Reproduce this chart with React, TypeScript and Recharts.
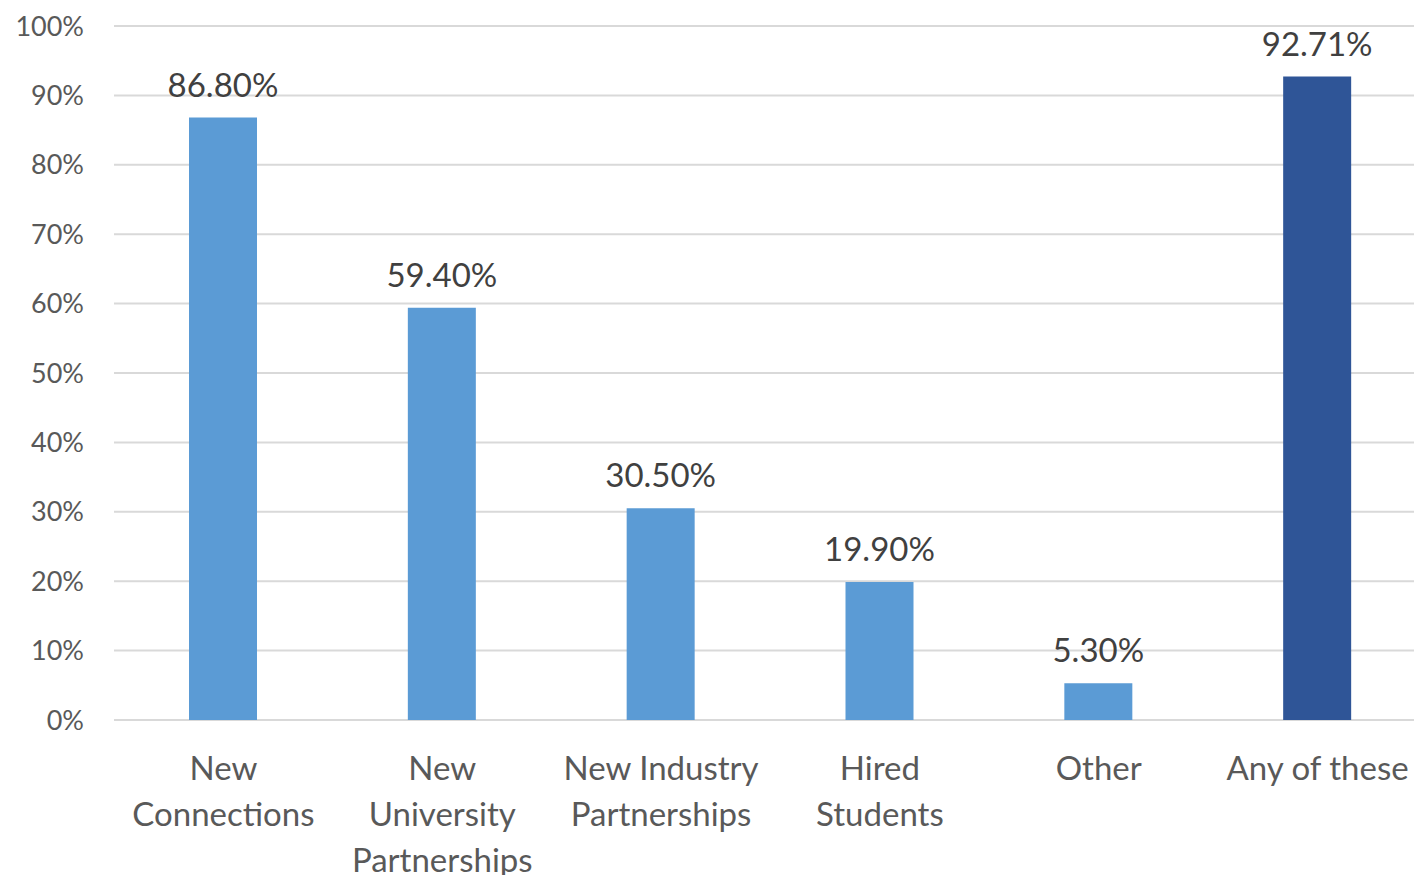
import { BarChart, Bar, XAxis, YAxis, CartesianGrid, Cell, LabelList } from "recharts";

const categories = [
  "New\nConnections",
  "New\nUniversity\nPartnerships",
  "New Industry\nPartnerships",
  "Hired\nStudents",
  "Other",
  "Any of these",
];
const values = [86.8, 59.4, 30.5, 19.9, 5.3, 92.71];
const yTicks = [0, 10, 20, 30, 40, 50, 60, 70, 80, 90, 100];

const data = categories.map((name, i) => ({ name, value: values[i] }));

const FONT = "Lato, 'Open Sans', sans-serif";

function CategoryTick(props: any) {
  const { x, y, payload } = props;
  const lines = String(payload.value).split("\n");
  return (
    <text x={x} y={y} textAnchor="middle" fill="#595959" fontSize={33} fontFamily={FONT}>
      {lines.map((line, i) => (
        <tspan key={i} x={x} dy={i === 0 ? 58 : 46}>
          {line}
        </tspan>
      ))}
    </text>
  );
}

export default function App() {
  return (
    <div style={{ position: "absolute", left: 0, top: 0, width: 1414, height: 875, overflow: "hidden", background: "#fff" }}>
      <BarChart width={1428} height={875} data={data} margin={{ top: 26, right: 1, bottom: 0, left: 0 }}>
        <CartesianGrid vertical={false} stroke="#d9d9d9" strokeWidth={2} />
        <XAxis
          dataKey="name"
          height={155}
          axisLine={false}
          tickLine={false}
          tickSize={0}
          interval={0}
          tick={<CategoryTick />}
        />
        <YAxis
          width={114}
          domain={[0, 100]}
          ticks={yTicks}
          axisLine={false}
          tickLine={false}
          tickSize={0}
          tickMargin={30}
          tickFormatter={(v: number) => `${v}%`}
          tick={{ fill: "#595959", fontSize: 27, fontFamily: FONT }}
        />
        <Bar dataKey="value" barSize={68} isAnimationActive={false}>
          {data.map((d, i) => (
            <Cell key={d.name} fill={i === data.length - 1 ? "#2f5597" : "#5b9bd5"} />
          ))}
          <LabelList
            dataKey="value"
            position="top"
            offset={21}
            formatter={(v: any) => `${Number(v).toFixed(2)}%`}
            style={{ fill: "#404040", fontSize: 33, fontFamily: FONT }}
          />
        </Bar>
      </BarChart>
    </div>
  );
}
